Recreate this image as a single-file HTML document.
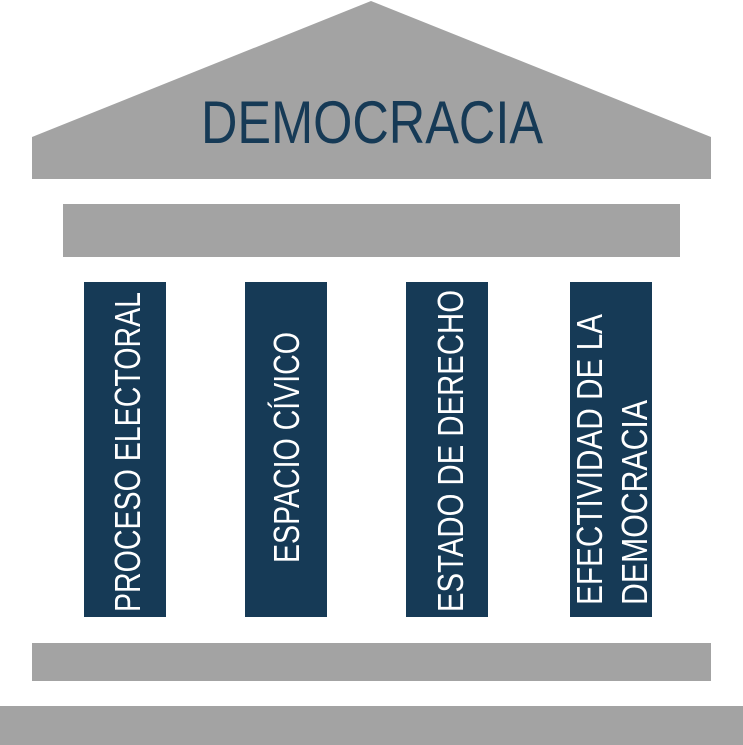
<!DOCTYPE html>
<html><head><meta charset="utf-8"><style>
html,body{margin:0;padding:0;background:#fff;}
svg{display:block;}
text{font-family:"Liberation Sans",sans-serif;}
</style></head><body>
<svg width="743" height="745" viewBox="0 0 743 745" xmlns="http://www.w3.org/2000/svg">
<polygon points="32,137 371,1 711,137 711,179 32,179" fill="#a3a3a3"/>
<text x="201" y="143" font-size="60" fill="#163a56" textLength="342" lengthAdjust="spacingAndGlyphs">DEMOCRACIA</text>
<rect x="63" y="204" width="617" height="53" fill="#a3a3a3"/>
<rect x="84" y="282" width="82" height="335" fill="#163a56"/>
<rect x="245" y="282" width="82" height="335" fill="#163a56"/>
<rect x="406" y="282" width="82" height="335" fill="#163a56"/>
<rect x="570" y="282" width="82" height="335" fill="#163a56"/>
<g fill="#ffffff" font-size="36">
<text transform="translate(140,612) rotate(-90)" textLength="320" lengthAdjust="spacingAndGlyphs">PROCESO ELECTORAL</text>
<text transform="translate(299,563) rotate(-90)" textLength="231" lengthAdjust="spacingAndGlyphs">ESPACIO CÍVICO</text>
<text transform="translate(463,612) rotate(-90)" textLength="322" lengthAdjust="spacingAndGlyphs">ESTADO DE DERECHO</text>
<text transform="translate(602,605) rotate(-90)" textLength="291" lengthAdjust="spacingAndGlyphs">EFECTIVIDAD DE LA</text>
<text transform="translate(647,605) rotate(-90)" textLength="205" lengthAdjust="spacingAndGlyphs">DEMOCRACIA</text>
</g>
<rect x="32" y="643" width="679" height="38" fill="#a3a3a3"/>
<rect x="0" y="706" width="743" height="39" fill="#a3a3a3"/>
</svg>
</body></html>
